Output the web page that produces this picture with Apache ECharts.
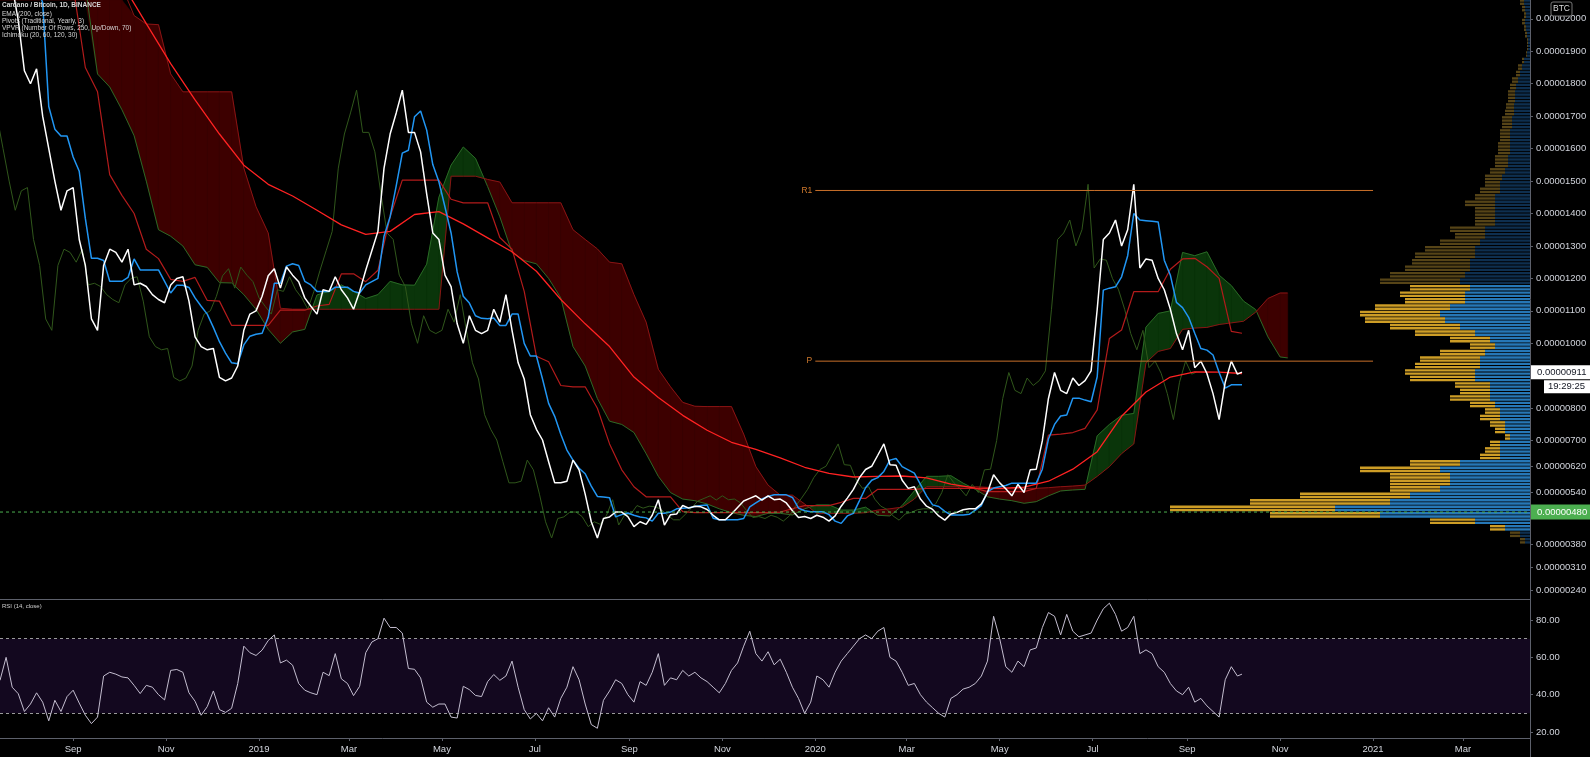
<!DOCTYPE html>
<html><head><meta charset="utf-8">
<script src="https://cdn.jsdelivr.net/npm/echarts@6/dist/echarts.min.js"></script>
<style>html,body{margin:0;padding:0;background:#000;overflow:hidden}#c{width:1590px;height:757px}</style>
</head><body><div id="c"></div>
<script>
// ---------- DATA (prices in satoshi = 1e-8 BTC) ----------
const DAY = 86400000;
const T0 = Date.UTC(2018, 6, 15);          // first visible day
const xMin = T0, xMax = T0 + 1004 * DAY;

const priceStepDays = 4;
const price = [2300,2200,2100,1995,1840,1800,1846,1700,1600,1500,
 1410,1470,1480,1320,1240,1075,1040,1240,1290,1280,
 1250,1290,1180,1185,1175,1150,1135,1125,1180,1200,
 1205,1130,1020,990,980,984,895,884,893,930,
 1040,1090,1100,1145,1208,1230,1170,1235,1210,1190,
 1140,1114,1090,1165,1160,1205,1165,1140,1105,1160,
 1225,1285,1345,1540,1645,1710,1780,1650,1650,1590,
 1460,1340,1320,1210,1175,1060,1000,1085,1040,1030,
 1040,1105,1065,1150,1040,940,890,780,735,702,
 635,570,570,575,640,610,535,450,400,460,
 465,480,480,466,435,450,442,470,518,440,
 472,474,500,492,498,496,488,470,456,456,
 474,494,514,522,530,517,530,518,520,508,
 484,463,466,460,470,464,452,468,498,523,
 550,586,611,621,655,690,626,624,578,553,
 558,520,498,488,468,455,474,479,487,490,
 490,505,540,595,570,552,530,565,540,610,
 612,700,830,910,855,845,893,870,885,915,
 1105,1320,1340,1380,1300,1350,1490,1232,1260,1256,
 1200,1165,1105,1030,980,1040,925,945,907,845,
 765,880,945,905];
const lastDay = 815, lastClose = 911;

const tenkanStepDays = 4;
const tenkan = [2400,2350,2300,2250,2200,2150,2100,2050,1730,1660,
 1639,1639,1574,1530,1385,1262,1262,1255,1191,1191,
 1191,1203,1260,1226,1226,1226,1226,1191,1155,1179,
 1179,1172,1140,1114,1090,1049,1005,970,940,937,
 995,1022,1028,1031,1080,1185,1185,1238,1245,1240,
 1191,1180,1160,1160,1160,1173,1173,1173,1160,1155,
 1180,1190,1200,1330,1390,1485,1586,1595,1698,1716,
 1657,1551,1498,1420,1340,1220,1145,1124,1085,1077,
 1076,1078,1055,1055,1090,1090,1000,961,961,890,
 815,775,720,671,640,615,598,560,528,526,
 524,465,472,477,470,465,462,452,476,476,
 480,490,492,493,497,500,502,461,456,456,
 456,456,460,496,508,520,528,533,533,533,
 525,492,484,481,481,481,472,452,445,468,
 476,515,555,578,586,605,640,645,620,610,
 600,565,530,502,497,482,471,471,471,473,
 486,500,543,554,558,562,569,569,569,569,
 569,612,705,750,776,779,831,831,825,820,
 897,1164,1170,1174,1205,1270,1400,1380,1378,1376,
 1374,1256,1210,1126,1110,1080,1031,984,979,964,
 910,862,872,872];
const tenkanLast = 872;

const kijunStepDays = 8;
const kijun = [2400,2350,2300,2250,2200,2150,2100,1850,1775,1520,
 1456,1400,1290,1261,1197,1191,1203,1132,1130,1055,
 1055,1055,1055,1102,1102,1102,1115,1120,1214,1214,
 1190,1225,1390,1503,1503,1503,1503,1444,1433,1433,
 1433,1326,1290,1160,960,943,870,866,866,800,
 690,610,558,527,527,527,481,478,478,478,
 478,478,478,478,480,490,500,500,500,510,
 522,522,550,550,550,550,553,553,553,553,
 553,543,543,543,543,553,717,720,725,738,
 795,1015,1041,1159,1159,1159,1228,1260,1262,1236,
 1200,1037];
const kijunLast = 1031;

const emaStepDays = 16;
const ema200 = [2750,2620,2490,2370,2250,2110,1985,1862,1750,1645,
 1549,1490,1454,1410,1365,1336,1345,1397,1406,1368,
 1325,1282,1222,1135,1060,990,896,833,778,732,
 695,673,647,618,599,588,590,591,585,566,
 554,553,557,575,612,666,775,850,896,912,
 911];
const emaLast = 907;

const cloudStepDays = 8;
const spanA = [2600,2560,2500,2440,2380,2300,2200,2100,1830,1790,
 1720,1640,1500,1350,1330,1300,1242,1234,1187,1186,
 1150,1105,1043,1000,1035,1043,1149,1160,1180,1160,
 1138,1150,1191,1180,1179,1244,1450,1549,1605,1570,
 1483,1390,1280,1255,1245,1200,1140,990,930,830,
 760,750,725,660,590,540,520,515,505,490,
 478,470,466,476,476,471,490,502,502,486,
 486,495,470,468,500,545,590,590,592,569,
 550,527,520,515,507,512,530,545,548,550,
 715,750,778,784,1050,1092,1100,1280,1270,1282,
 1210,1178,1130,1104,1020,958];
const spanB = [2700,2680,2650,2600,2550,2500,2450,2400,2300,2200,
 2100,2010,1984,1982,1830,1775,1775,1775,1775,1775,
 1540,1421,1340,1108,1105,1105,1105,1105,1105,1105,
 1105,1105,1105,1105,1105,1105,1105,1515,1515,1515,
 1505,1497,1433,1433,1433,1433,1433,1350,1320,1291,
 1250,1245,1150,1065,920,866,818,806,805,805,
 805,720,620,563,532,532,505,476,476,476,
 476,478,486,490,495,520,558,558,558,558,
 558,556,553,553,553,553,555,558,560,563,
 590,620,660,690,940,975,984,1043,1047,1049,
 1058,1063,1068,1096,1138,1155];
const cloudLastDay = 845, spanALast = 955, spanBLast = 1155;
const chikouShiftDays = -30;

const rsiStepDays = 4;
const rsi = [47.7,60,44,40.5,31,35,41,36,26,37,
 31,39,42.4,35.5,29,24.5,28,50,52,51,
 49.5,49,45,40.6,45,44,40,37.2,53,53.5,
 52,41,36.5,29,33.6,42,32,30.5,32.7,46,
 66,62.5,61,63.9,69,72,57,58.5,55.8,46,
 42.4,41,40,52,50.2,62,48.5,46,39.5,44.5,
 62.5,68.2,70,81,76,76,73,54,53.6,49,
 36,33.3,35,35,28,27.5,44.5,42.7,39.6,39,
 47,50.8,47.7,50,58,44,32,27,30,26,
 33,28,38,44,55,48,35,24,22,37,
 42,48,46,40,36,47,45,52,62,45,
 49,48,53,50,52,49,47,44,41,46,
 53,57,66,74,62,58,63,56,59,52,
 44,38,30,36,50,48,44,52,58,62,
 66,70,72,70,74,76,60,58,52,45,
 46,40,36,33,30,28,38,40,43,44,
 46,50,58,82,70,55,52,58,55,64,
 65,76,84,82,72,83,74,71,72,73,
 80,86,89,83,74,76,82,62,64,62,
 55,52,46,42,40,44,36,38,34,31,
 28,48,55,50];
const rsiLast = 51;

const pivotNames = ['R1', 'P'];
const pivotValues = [1471, 945];
const pivotFrom = '2020-01-01', pivotTo = '2021-01-01';
const pocValue = 480;
const countdownText = '19:29:25';

const vpFirstRow = 380, vpRowSize = 20;
const vpTotal = [10,20,40,100,260,360,280,230,140,140,
 140,170,120,50,45,40,25,35,40,50,
 45,60,80,70,75,120,125,115,110,90,
 60,80,115,140,165,170,155,125,130,120,
 150,140,125,118,115,105,90,75,80,55,
 55,55,65,55,50,45,45,40,35,35,
 32,32,30,30,28,28,25,24,22,22,
 20,18,14,12,8,4,3,3,5,6,
 8,6,8,10];
const vpUp = [5,10,25,55,150,195,140,120,90,80,
 80,90,70,30,30,30,20,25,25,30,
 30,35,40,40,40,55,55,50,50,45,
 35,40,55,70,85,90,80,65,65,60,
 70,65,60,60,55,55,50,45,45,35,
 35,35,35,35,30,30,28,25,22,22,
 20,20,20,20,18,18,16,16,15,15,
 14,12,10,8,6,3,2,2,3,4,
 5,4,5,6];
const vaLow = 420, vaHigh = 1180;

const priceTicks = [240,310,380,540,620,700,800,1000,1100,1200,1300,1400,1500,1600,1700,1800,1900,2000];
const rsiTicks = [20,40,60,80];
const dateTicks = ['2018-09-01','2018-11-01','2019-01-01','2019-03-01','2019-05-01','2019-07-01',
 '2019-09-01','2019-11-01','2020-01-01','2020-03-01','2020-05-01','2020-07-01','2020-09-01',
 '2020-11-01','2021-01-01','2021-03-01'];
const legendLines = ['Cardano / Bitcoin, 1D, BINANCE','EMA (200, close)','Pivots (Traditional, Yearly, 3)',
 'VPVR (Number Of Rows, 250, Up/Down, 70)','Ichimoku (20, 60, 120, 30)'];

// ---------- helpers ----------
const ts = s => { const p = s.split('-').map(Number); return Date.UTC(p[0], p[1]-1, p[2]); };
const pts = (step, arr, last, lastVal, shift) => {
  shift = shift || 0;
  const out = arr.map((v, i) => [T0 + (i*step + shift)*DAY, v]);
  if (last != null) out.push([T0 + (last + shift)*DAY, lastVal]);
  return out;
};
const fmtP = v => (v/1e8).toFixed(8);
const MONTHS = ['Jan','Feb','Mar','Apr','May','Jun','Jul','Aug','Sep','Oct','Nov','Dec'];
const FONT = 'Liberation Sans';
const AX = '#5d606b', TXT = '#d1d4dc';
const GREEN_FILL = '#0a350a', RED_FILL = '#3d0000';

const cloudA = pts(cloudStepDays, spanA, cloudLastDay, spanALast);
const cloudB = pts(cloudStepDays, spanB, cloudLastDay, spanBLast);
const cloudSegs = [];
for (let i = 0; i < cloudA.length - 1; i++)
  cloudSegs.push([cloudA[i][0], cloudA[i][1], cloudB[i][1], cloudA[i+1][0], cloudA[i+1][1], cloudB[i+1][1]]);

const vpRows = vpTotal.map((t, i) => [vpFirstRow + i*vpRowSize, vpFirstRow + (i+1)*vpRowSize, t, vpUp[i]]);

function clampPts(points, r) {
  return points.map(p => [Math.min(Math.max(p[0], r.x), r.x + r.width), Math.min(Math.max(p[1], r.y), r.y + r.height)]);
}
function renderCloud(params, api) {
  const t0 = api.value(0), a0 = api.value(1), b0 = api.value(2), t1 = api.value(3), a1 = api.value(4), b1 = api.value(5);
  const pa0 = api.coord([t0, a0]), pb0 = api.coord([t0, b0]), pa1 = api.coord([t1, a1]), pb1 = api.coord([t1, b1]);
  const cs = params.coordSys; const r = {x: cs.x, y: cs.y, width: cs.width, height: cs.height};
  const d0 = a0 - b0, d1 = a1 - b1; const ch = [];
  const add = (p, up) => { const c = up ? GREEN_FILL : RED_FILL;
    ch.push({type: 'polygon', shape: {points: clampPts(p, r)}, style: {fill: c, stroke: c, lineWidth: 0.6}}); };
  if ((d0 >= 0) === (d1 >= 0)) add([pa0, pa1, pb1, pb0], d0 >= 0);
  else { const f = d0/(d0 - d1); const px = [pa0[0] + (pa1[0]-pa0[0])*f, pa0[1] + (pa1[1]-pa0[1])*f];
    add([pa0, px, pb0], d0 > 0); add([px, pa1, pb1], d1 > 0); }
  return {type: 'group', children: ch};
}
function renderVP(params, api) {
  const lo = api.value(0), hi = api.value(1), tot = api.value(2), up = api.value(3);
  const p0 = api.coord([0, lo]), p1 = api.coord([0, hi]);
  const xu = api.coord([up, lo])[0], xt = api.coord([tot, lo])[0];
  const H = p0[1] - p1[1];
  const dim = lo >= vaHigh || hi <= vaLow;
  const ch = [];
  for (let k = 0; k < 2; k++) {     // two stripes per row, like the fine striation of the original
    const y = p1[1] + k*H/2, h = Math.max(0.8, H/2 - 0.9);
    ch.push({type: 'rect', shape: {x: xu, y: y, width: p0[0] - xu, height: h}, style: {fill: dim ? '#0e2f4f' : '#2677b6'}});
    ch.push({type: 'rect', shape: {x: xt, y: y, width: xu - xt, height: h}, style: {fill: dim ? '#564417' : '#cd9d26'}});
  }
  return {type: 'group', children: ch};
}
const line = (data, color, width, z) => ({type: 'line', xAxisIndex: 0, yAxisIndex: 0, data: data, showSymbol: false,
  symbol: 'none', lineStyle: {color: color, width: width}, z: z, silent: true, clip: true});

const pivotSeries = pivotNames.map((n, k) => line([[ts(pivotFrom), pivotValues[k]], [ts(pivotTo), pivotValues[k]]], '#c8702a', 1, 6));

const option = {
  backgroundColor: '#000', animation: false,
  grid: [{left: 0, top: 0, width: 1530, height: 599}, {left: 0, top: 599, width: 1530, height: 139}],
  xAxis: [
    {type: 'value', gridIndex: 0, min: xMin, max: xMax, axisLabel: {show: false}, axisTick: {show: false},
     splitLine: {show: false}, axisLine: {show: true, lineStyle: {color: AX}}},
    {type: 'value', gridIndex: 1, min: xMin, max: xMax, splitLine: {show: false},
     axisLine: {show: true, lineStyle: {color: AX}},
     axisTick: {show: true, length: 3, lineStyle: {color: AX}, customValues: dateTicks.map(ts)},
     axisLabel: {customValues: dateTicks.map(ts), color: TXT, fontSize: 9.5, fontFamily: FONT, margin: 6,
       formatter: v => { const d = new Date(v); const m = d.getUTCMonth(); return m === 0 ? String(d.getUTCFullYear()) : MONTHS[m]; }}},
    {type: 'value', gridIndex: 0, inverse: true, min: 0, max: 1530, show: false}
  ],
  yAxis: [
    {type: 'value', gridIndex: 0, position: 'right', min: 212, max: 2058, splitLine: {show: false},
     axisLine: {show: true, lineStyle: {color: AX}},
     axisTick: {show: true, length: 3, lineStyle: {color: AX}, customValues: priceTicks},
     axisLabel: {customValues: priceTicks, formatter: fmtP, color: TXT, fontSize: 9.5, fontFamily: FONT, margin: 6}},
    {type: 'value', gridIndex: 1, position: 'right', min: 16.8, max: 91.25, splitLine: {show: false},
     axisLine: {show: true, lineStyle: {color: AX}},
     axisTick: {show: true, length: 3, lineStyle: {color: AX}, customValues: rsiTicks},
     axisLabel: {customValues: rsiTicks, formatter: v => v.toFixed(2), color: TXT, fontSize: 9.5, fontFamily: FONT, margin: 6}}
  ],
  series: [
    {type: 'custom', coordinateSystem: 'cartesian2d', xAxisIndex: 2, yAxisIndex: 0, data: vpRows, renderItem: renderVP,
     silent: true, z: 1, encode: {x: [2, 3], y: [0, 1]}},
    {type: 'custom', coordinateSystem: 'cartesian2d', xAxisIndex: 0, yAxisIndex: 0, data: cloudSegs, renderItem: renderCloud,
     silent: true, z: 2, clip: true, encode: {x: [0, 3], y: [1, 2, 4, 5]}},
    line(cloudA, '#2a6a26', 1, 3),
    line(cloudB, '#8a1414', 1, 3),
    line(pts(priceStepDays, price, lastDay, lastClose, chikouShiftDays), '#30571b', 1, 3),
    line(pts(kijunStepDays, kijun, lastDay, kijunLast), '#b31b1b', 1.2, 4),
    line(pts(emaStepDays, ema200, lastDay, emaLast), '#ff2222', 1.3, 4),
    line(pts(tenkanStepDays, tenkan, lastDay, tenkanLast), '#2196f3', 1.5, 5),
    line(pts(priceStepDays, price, lastDay, lastClose), '#ffffff', 1.5, 6),
    ...pivotSeries,
    Object.assign(line([[xMin, pocValue], [xMax, pocValue]], '#4caf50', 1, 7), {lineStyle: {color: '#4caf50', width: 1, type: [3, 3]}}),
    {type: 'line', xAxisIndex: 1, yAxisIndex: 1, data: pts(rsiStepDays, rsi, lastDay, rsiLast), showSymbol: false,
     symbol: 'none', silent: true, z: 5, lineStyle: {color: '#c4bed0', width: 1},
     markArea: {silent: true, itemStyle: {color: '#13081f'}, data: [[{yAxis: 30}, {yAxis: 70}]]},
     markLine: {silent: true, symbol: ['none', 'none'], label: {show: false},
       lineStyle: {color: '#9a9a9a', type: [3, 3], width: 1}, data: [{yAxis: 30}, {yAxis: 70}]}}
  ]
};

const chart = echarts.init(document.getElementById('c'), null, {renderer: 'canvas'});
chart.setOption(option);

// ---------- overlay texts positioned through the chart's own scales ----------
const yOf = v => chart.convertToPixel({yAxisIndex: 0}, v);
const xOf = t => chart.convertToPixel({xAxisIndex: 0}, t);
const g = legendLines.map((t, i) => ({type: 'text', x: 2, y: [2, 11, 18, 25, 32][i], z: 100,
  style: {text: t, fill: '#d6d6d6', fontSize: 6.5, fontFamily: FONT, fontWeight: i === 0 ? 'bold' : 'normal', verticalAlign: 'top'}}));
g.push({type: 'text', x: 2, y: 603, z: 100, style: {text: 'RSI (14, close)', fill: '#cfcfcf', fontSize: 6, fontFamily: FONT, verticalAlign: 'top'}});
g.push({type: 'rect', z: 100, shape: {x: 1551, y: 2, width: 21, height: 14, r: 2}, style: {fill: '#000', stroke: '#777', lineWidth: 1}});
g.push({type: 'text', z: 101, x: 1561.5, y: 9, style: {text: 'BTC', fill: '#ddd', fontSize: 8.5, fontFamily: FONT, align: 'center', verticalAlign: 'middle'}});
// last price box + countdown
const yL = yOf(lastClose);
g.push({type: 'rect', z: 100, shape: {x: 1531, y: yL - 7, width: 59, height: 14}, style: {fill: '#ffffff'}});
g.push({type: 'text', z: 101, x: 1537, y: yL, style: {text: fmtP(lastClose), fill: '#131722', fontSize: 9.5, fontFamily: FONT, verticalAlign: 'middle'}});
g.push({type: 'rect', z: 100, shape: {x: 1544, y: yL + 8, width: 46, height: 13}, style: {fill: '#ffffff'}});
g.push({type: 'text', z: 101, x: 1548, y: yL + 14.5, style: {text: countdownText, fill: '#131722', fontSize: 9.5, fontFamily: FONT, verticalAlign: 'middle'}});
// POC box
const yP = yOf(pocValue);
g.push({type: 'rect', z: 100, shape: {x: 1531, y: yP - 7.5, width: 59, height: 15}, style: {fill: '#4caf50'}});
g.push({type: 'text', z: 101, x: 1537, y: yP, style: {text: fmtP(pocValue), fill: '#ffffff', fontSize: 9.5, fontFamily: FONT, verticalAlign: 'middle'}});
// pivot labels
pivotNames.forEach((n, k) => g.push({type: 'text', z: 101, x: xOf(ts(pivotFrom)) - 3, y: yOf(pivotValues[k]),
  style: {text: n, fill: '#d17a2d', fontSize: 8.5, fontFamily: FONT, align: 'right', verticalAlign: 'middle'}}));
g.push({type: 'line', z: 100, shape: {x1: 1530.5, y1: 738, x2: 1530.5, y2: 757}, style: {stroke: AX, lineWidth: 1}});
chart.setOption({graphic: g});
</script></body></html>
